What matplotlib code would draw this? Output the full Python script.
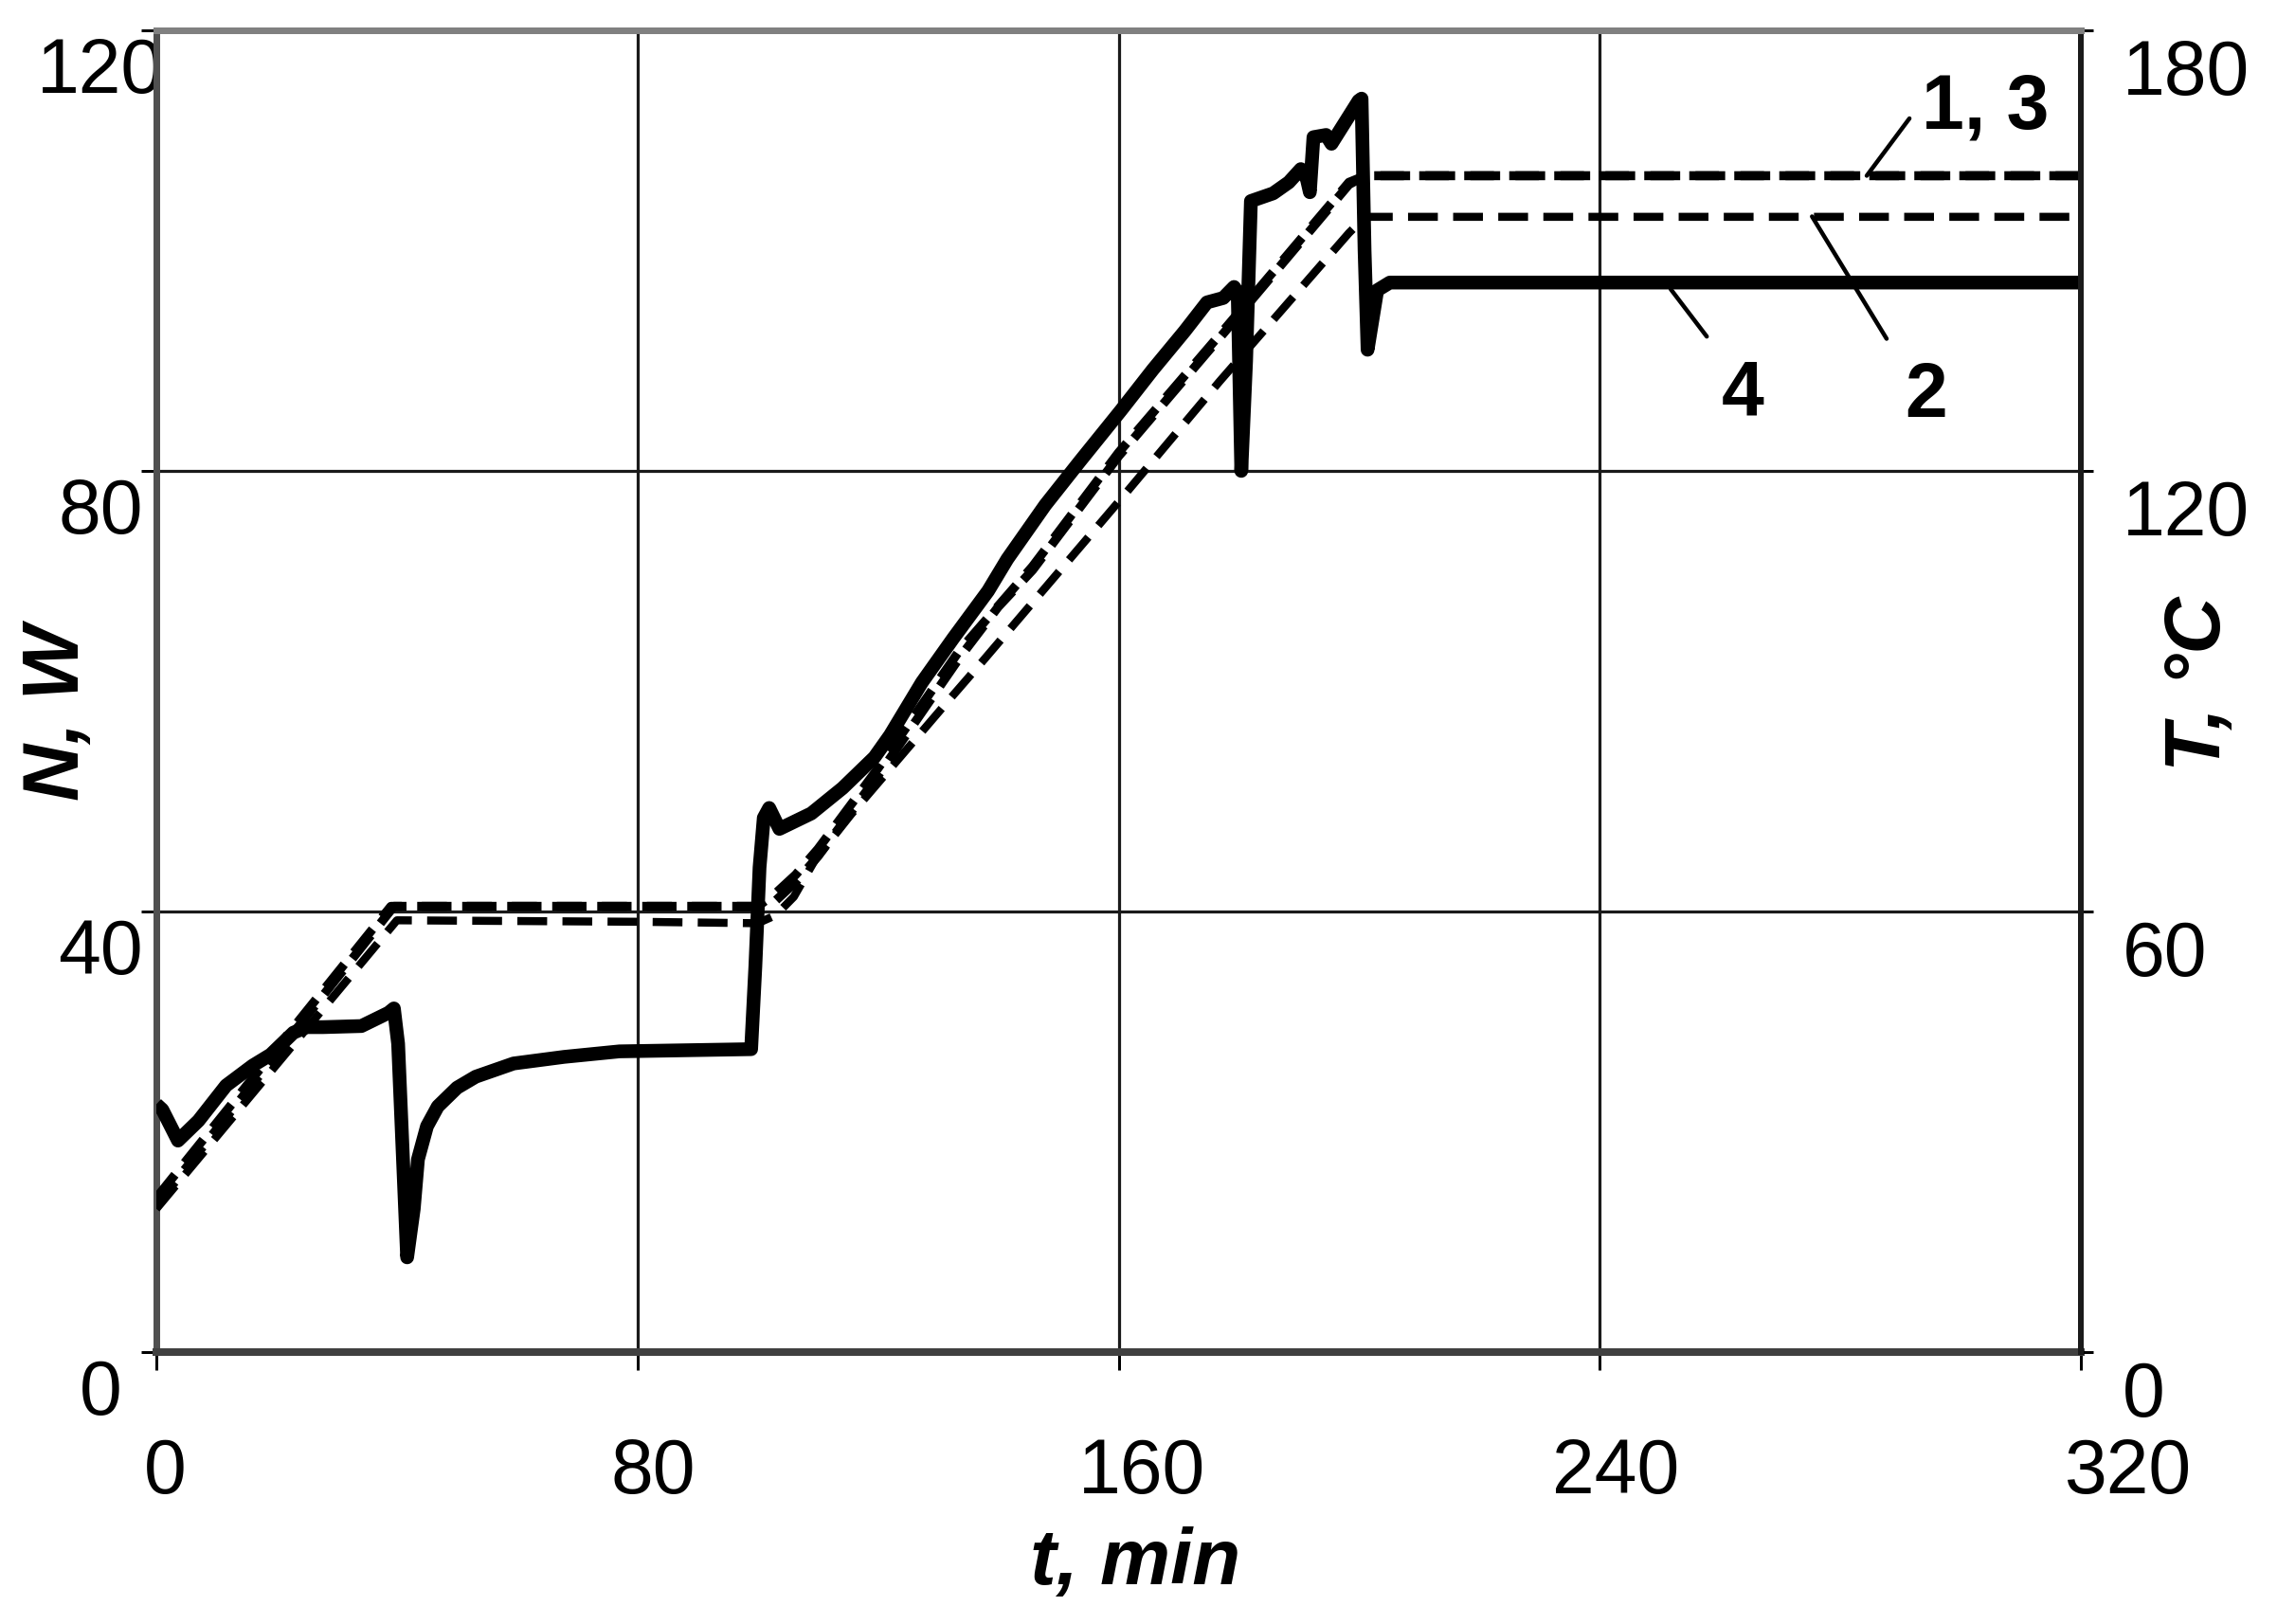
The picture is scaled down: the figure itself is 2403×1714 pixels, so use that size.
import matplotlib
matplotlib.use("Agg")
import matplotlib.pyplot as plt
from matplotlib.transforms import ScaledTranslation

plt.rcParams['font.family'] = ['Liberation Sans', 'DejaVu Sans']

# ---------------- data ----------------
# curve 4: power N (W) vs time t (min)
t4 = [0, 1.0, 3.6, 7, 11.6, 16, 19, 22.8, 25, 27.7, 34.1, 38.6, 39.5, 40.2, 41.7,
      42.8, 43.5, 45, 46.8, 50, 53.1, 59.4, 67.8, 77.0, 98.9, 99.6, 100.3, 101.0,
      101.9, 103.6, 108.9, 114.1, 119.4, 122.0, 127.3, 132.5, 138.3, 141.5, 147.8,
      153.6, 160.4, 165.7, 171.0, 174.7, 177.4, 179.2, 179.8, 180.4, 181.2, 182.0,
      185.7, 188.3, 190.3, 191.3, 191.8, 192.4, 194.5, 195.4, 199.9, 200.4, 200.9,
      201.4, 203.0, 205.1, 320]
N4 = [22.5, 22.0, 19.2, 21.0, 24.2, 26.0, 27.0, 29.0, 29.5, 29.5, 29.6, 30.8, 31.2, 28.0, 8.6,
      13.0, 17.5, 20.5, 22.3, 24.0, 25.0, 26.2, 26.8, 27.3, 27.5, 35.0, 44.0, 48.5,
      49.4, 47.5, 48.9, 51.2, 54.0, 56.0, 60.8, 64.8, 69.1, 72.0, 76.9,
      80.9, 85.5, 89.2, 92.7, 95.3, 95.7, 96.7, 96.2, 80.0, 90.0, 104.5,
      105.2, 106.2, 107.4, 106.5, 105.3, 110.3, 110.5, 109.7, 113.6, 113.8, 100.0,
      91.0, 96.4, 97.1, 97.1]

# curve 1: temperature T (°C)
t1 = [0, 39.5, 100, 103, 106.3, 110, 120, 133.5, 140, 145.7, 160, 177.3, 198.3, 201, 320]
T1 = [20.0, 60.7, 60.7, 61.5, 64.0, 67.5, 78.5, 94.5, 101.5, 106.5, 122.0, 138.6, 159.0, 160.2, 160.2]

# curve 3: temperature T (°C)
t3 = [0, 39.0, 100, 103, 106.3, 110, 120, 133.5, 145.7, 160, 177.3, 198.3, 201, 320]
T3 = [21.0, 60.7, 60.7, 62.5, 65.0, 68.5, 79.5, 95.5, 107.0, 122.5, 139.0, 159.3, 160.2, 160.2]

# curve 2: temperature T (°C)
t2 = [0, 40, 80, 100, 103, 106, 109.5, 115.5, 131.9, 137.2, 160, 176.8, 198.3, 201, 320]
T2 = [19.5, 58.8, 58.6, 58.4, 59.5, 62.0, 67.0, 73.2, 88.9, 93.9, 115.8, 132.2, 152.4, 154.6, 154.6]

x_ticks = [0, 80, 160, 240, 320]
x_tick_labels = ['0', '80', '160', '240', '320']
yN_ticks = [0, 40, 80, 120]
yN_tick_labels = ['0', '40', '80', '120']
yT_ticks = [0, 60, 120, 180]
yT_tick_labels = ['0', '60', '120', '180']

# curve labels: (text, text position (t, N), leader start (t, N), leader end (t, N))
curve_labels = ['1, 3', '2', '4']
label_pos = [(304.1, 111.1), (294.3, 84.9), (263.7, 85.1)]
leader_from = [(291.5, 112.0), (275.3, 103.1), (251.8, 96.5)]
leader_to = [(284.4, 106.8), (287.7, 92.0), (257.8, 92.2)]

# ---------------- figure ----------------
DPI = 100
W, H = 2403, 1714
fig = plt.figure(figsize=(W / DPI, H / DPI), dpi=DPI)
L, R, B, T = 165, 2196, 1427, 32
ax = fig.add_axes([L / W, 1 - B / H, (R - L) / W, (B - T) / H])
ax2 = ax.twinx()

px = 72.0 / DPI  # points per pixel

ax.set_xlim(0, 320)
ax.set_ylim(0, 120)
ax2.set_ylim(0, 180)

ax.set_xticks(x_ticks, x_tick_labels)
ax.set_yticks(yN_ticks, yN_tick_labels)
ax2.set_yticks(yT_ticks, yT_tick_labels)

ax.grid(True, color='#1a1a1a', lw=3.2 * px)
ax.set_axisbelow(True)

# lines
ax.plot(t4, N4, color='black', lw=14.5 * px, solid_joinstyle='round',
        solid_capstyle='butt', zorder=3)
ax2.plot(t2, T2, color='black', lw=8.5 * px, dashes=(3.7, 1.9), zorder=2)
ax2.plot(t3, T3, color='black', lw=9.5 * px, dashes=(3.3, 1.7), zorder=2)
ax2.plot(t1, T1, color='black', lw=9.5 * px, dashes=(3.3, 1.7), zorder=2)

# spines
for s in ['top', 'right']:
    ax.spines[s].set_visible(False)
for s in ['left', 'bottom']:
    ax2.spines[s].set_visible(False)
ax.spines['left'].set_color('#505050')
ax.spines['left'].set_linewidth(7 * px)
ax.spines['bottom'].set_color('#404040')
ax.spines['bottom'].set_linewidth(8 * px)
ax2.spines['top'].set_color('#808080')
ax2.spines['top'].set_linewidth(7 * px)
ax2.spines['right'].set_color('#1a1a1a')
ax2.spines['right'].set_linewidth(6 * px)

FS = 58
ax.tick_params(axis='x', direction='out', length=19 * px, width=3 * px,
               pad=71 * px, labelsize=FS, colors='black')
ax.tick_params(axis='y', direction='out', length=16 * px, width=3 * px,
               pad=43 * px, labelsize=FS, colors='black')
ax2.tick_params(axis='y', direction='out', length=13 * px, width=3 * px,
                pad=31 * px, labelsize=FS, colors='black')

x_offsets = [9, 17, 25, 17, 50]
for tk, dx in zip(ax.xaxis.get_major_ticks(), x_offsets):
    lab = tk.label1
    lab.set_transform(lab.get_transform() + ScaledTranslation(dx / DPI, 0, fig.dpi_scale_trans))

for tk in ax.yaxis.get_major_ticks():
    lab = tk.label1
    lab.set_horizontalalignment('center')
    lab.set_verticalalignment('top')
    lab.set_transform(lab.get_transform() + ScaledTranslation(0, -7 / DPI, fig.dpi_scale_trans))

for tk in ax2.yaxis.get_major_ticks():
    lab = tk.label2
    lab.set_horizontalalignment('left')
    lab.set_verticalalignment('top')
    lab.set_transform(lab.get_transform() + ScaledTranslation(0, -9 / DPI, fig.dpi_scale_trans))

# curve labels with leader lines
for txt, pos, a, b in zip(curve_labels, label_pos, leader_from, leader_to):
    ax.text(pos[0], pos[1], txt, ha='center', va='baseline', fontsize=FS,
            fontweight='bold', zorder=5)
    ax.annotate('', xy=b, xytext=a,
                arrowprops=dict(arrowstyle='-', lw=4.5 * px, color='black',
                                shrinkA=0, shrinkB=0), zorder=5)

# axis titles
lab_kw = dict(fontsize=60, fontweight='bold', fontstyle='italic')
fig.text(1198 / W, 1 - 1672 / H, 't, min', ha='center', va='baseline', **lab_kw)
fig.text(83 / W, 1 - 752 / H, 'N, W', rotation=90, rotation_mode='anchor',
         ha='center', va='baseline', **lab_kw)
fig.text(2343 / W, 1 - 722 / H, 'T, °C', rotation=90, rotation_mode='anchor',
         ha='center', va='baseline', **lab_kw)

fig.savefig('out.png', dpi=DPI, facecolor='white')
